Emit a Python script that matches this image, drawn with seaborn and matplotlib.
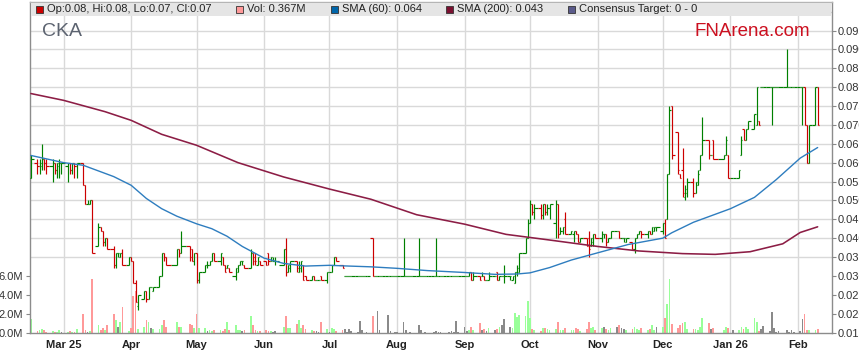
import numpy as np
import pandas as pd
import matplotlib
matplotlib.use("Agg")
import matplotlib.pyplot as plt
import matplotlib.dates as mdates
from matplotlib.patches import Rectangle
from matplotlib.ticker import MultipleLocator, FixedLocator
import seaborn as sns

# ------------------------------------------------------------
# Data: CKA daily bars (prices in 0.1 cent, volume in millions)
# ------------------------------------------------------------
holidays = ["2025-04-18", "2025-04-21", "2025-04-25", "2025-06-09",
            "2025-12-25", "2025-12-26", "2026-01-01", "2026-01-26"]
dates = pd.bdate_range("2025-02-14", "2026-02-10", freq="C", holidays=holidays)

opens = [
    56, 60, 59, 59, 61, 60, 59, 60, 58, 59, 60,                                  # Feb
    59, 60, 58, 60, 59, 60, 54, 49, 49, 50, 38, 43, 42, 39, 40, 37, 33, 36, 35, 36, 33,  # Mar
    35, 34, 28, 22, 24, 26, 24, 27, 26, 27, 30, 36, 35, 33, 37, 36, 38, 37, 34,  # Apr
    36, 29, 31, 33, 33, 34, 36, 34, 35, 33, 32, 32, 30, 31, 33, 34, 33, 32, 36, 35, 33, 34,  # May
    34, 36, 34, 34, 34, 33, 37, 31, 32, 34, 31, 32, 33, 30, 29, 30, 29, 29, 30, 29,  # Jun
    31, 31, 33, 35, 33, 30, 30, 30, 30, 30, 30, 30, 30, 30, 40, 30, 30, 30, 30, 30, 30, 30, 30,  # Jul
    30, 30, 30, 30, 30, 30, 30, 30, 30, 30, 30, 30, 30, 30, 30, 30, 30, 30, 30, 30, 30,  # Aug
    30, 30, 30, 31, 29, 30, 30, 30, 29, 29, 30, 31, 29, 30, 30, 30, 29, 28, 31, 31, 36, 40,  # Sep
    44, 49, 47, 48, 46, 49, 47, 48, 44, 49, 41, 42, 45, 41, 41, 42, 41, 39, 40, 40, 38, 39, 41,  # Oct
    40, 41, 41, 39, 40, 42, 42, 40, 40, 39, 39, 37, 40, 41, 42, 41, 42, 41, 42, 43,  # Nov
    42, 44, 45, 57, 75, 68, 57, 58, 51, 52, 55, 52, 54, 58, 62, 66, 62, 66, 61, 62, 62,  # Dec
    56, 56, 62, 69, 66, 69, 69, 70, 71, 80, 80, 80, 80, 80, 80, 80, 80, 80, 80, 80,  # Jan
    80, 80, 80, 70, 60, 70, 80,                                                  # Feb
]
highs = [
    62, 61, 61, 65, 61, 61, 61, 60, 60, 61, 60,
    60, 60, 60, 60, 60, 60, 54, 50, 50, 50, 44, 43, 42, 40, 40, 38, 36, 36, 36, 37, 35,
    35, 34, 29, 25, 26, 26, 27, 27, 27, 30, 36, 36, 35, 37, 37, 42, 38, 37, 36,
    36, 31, 33, 34, 34, 36, 36, 36, 35, 33, 33, 32, 32, 33, 34, 34, 33, 37, 36, 36, 35, 34,
    34, 36, 35, 35, 35, 37, 40, 33, 34, 34, 34, 34, 33, 30, 30, 30, 29, 29, 30, 31,
    31, 33, 35, 35, 33, 30, 30, 30, 30, 30, 30, 30, 30, 30, 40, 30, 30, 30, 30, 30, 30, 30, 30,
    30, 40, 30, 30, 30, 30, 40, 30, 30, 30, 30, 30, 40, 30, 30, 30, 30, 30, 30, 30, 30,
    30, 30, 31, 31, 31, 30, 31, 30, 29, 31, 30, 31, 30, 30, 33, 30, 30, 31, 33, 36, 40, 45,
    50, 49, 49, 49, 49, 49, 49, 49, 50, 49, 43, 43, 47, 42, 42, 42, 41, 40, 40, 42, 40, 41, 41,
    42, 41, 41, 40, 42, 42, 42, 40, 40, 40, 39, 40, 41, 42, 42, 42, 42, 43, 43, 43,
    44, 45, 57, 75, 75, 68, 57, 64, 54, 56, 56, 55, 58, 62, 72, 66, 62, 66, 62, 67, 62,
    56, 58, 67, 69, 69, 71, 73, 80, 71, 80, 80, 80, 80, 80, 80, 80, 90, 80, 80, 80,
    80, 80, 80, 70, 70, 80, 80,
]
lows = [
    56, 57, 57, 58, 58, 57, 55, 57, 56, 56, 57,
    55, 57, 57, 56, 56, 54, 49, 49, 49, 36, 38, 42, 38, 38, 37, 32, 32, 35, 35, 33, 33,
    34, 28, 23, 21, 24, 23, 24, 27, 26, 27, 30, 34, 33, 33, 35, 36, 34, 34, 33,
    28, 28, 31, 32, 33, 34, 34, 33, 33, 31, 32, 31, 29, 31, 33, 33, 32, 32, 33, 33, 33, 33,
    33, 33, 34, 34, 33, 33, 30, 31, 31, 31, 31, 31, 29, 29, 29, 29, 29, 29, 29, 28,
    31, 31, 33, 34, 32, 30, 30, 30, 30, 30, 30, 30, 30, 30, 30, 30, 30, 30, 30, 30, 30, 30, 30,
    30, 30, 30, 30, 30, 30, 30, 30, 30, 30, 30, 30, 30, 30, 30, 30, 30, 30, 30, 30, 30,
    30, 30, 30, 29, 29, 29, 30, 29, 29, 29, 30, 29, 29, 30, 28, 29, 29, 28, 30, 31, 36, 40,
    44, 46, 45, 45, 45, 46, 46, 45, 40, 40, 41, 41, 41, 41, 39, 41, 39, 39, 38, 35, 38, 38, 40,
    39, 40, 38, 39, 40, 42, 40, 40, 39, 39, 37, 36, 40, 41, 40, 40, 41, 41, 42, 42,
    41, 40, 45, 57, 61, 57, 56, 51, 50, 51, 51, 52, 54, 58, 62, 61, 62, 61, 61, 62, 56,
    56, 56, 62, 66, 66, 69, 69, 70, 70, 80, 80, 80, 70, 80, 80, 80, 80, 80, 80, 80,
    80, 70, 70, 60, 60, 70, 70,
]
closes = [
    61, 59, 60, 61, 60, 59, 60, 58, 60, 60, 60,
    60, 58, 60, 59, 60, 54, 49, 49, 50, 36, 43, 42, 39, 40, 37, 33, 36, 36, 36, 33, 35,
    34, 28, 23, 25, 26, 24, 27, 27, 27, 30, 36, 35, 33, 37, 36, 38, 35, 34, 36,
    29, 31, 33, 33, 34, 36, 34, 36, 33, 31, 33, 31, 32, 33, 34, 34, 32, 36, 34, 34, 35, 33,
    33, 34, 35, 34, 34, 37, 31, 33, 34, 32, 33, 34, 29, 29, 30, 29, 29, 29, 29, 31,
    31, 33, 35, 34, 32, 30, 30, 30, 30, 30, 30, 30, 30, 30, 30, 30, 30, 30, 30, 30, 30, 30, 30,
    30, 30, 30, 30, 30, 30, 30, 30, 30, 30, 30, 30, 30, 30, 30, 30, 30, 30, 30, 30, 30,
    30, 30, 31, 29, 30, 29, 30, 29, 29, 30, 30, 29, 30, 30, 30, 30, 30, 31, 32, 36, 40, 44,
    49, 47, 48, 46, 49, 47, 48, 49, 49, 41, 42, 43, 41, 42, 42, 41, 39, 40, 38, 37, 40, 41, 40,
    41, 41, 39, 40, 42, 42, 40, 40, 40, 40, 37, 40, 41, 42, 41, 42, 41, 43, 43, 43,
    44, 40, 57, 74, 62, 58, 56, 52, 53, 55, 52, 55, 57, 62, 66, 62, 62, 61, 62, 66, 56,
    56, 58, 66, 66, 69, 71, 73, 80, 70, 80, 80, 80, 80, 80, 80, 80, 80, 80, 80, 80,
    80, 80, 70, 60, 70, 80, 70,
]
volumes = [
    1.4, 0.2, 0.3, 0.4, 0.3, 0.1, 0.2, 0.1, 0.1, 0.3, 0.1,
    0.1, 0.2, 0.1, 0.1, 0.4, 2.0, 0.3, 0.1, 0.2, 5.7, 0.8, 0.3, 0.5, 0.3, 0.8, 2.0, 1.3, 0.6, 1.1, 2.7, 0.2,
    0.5, 3.9, 4.4, 0.4, 0.6, 1.3, 1.1, 0.5, 0.4, 0.4, 0.8, 1.3, 0.6, 1.1, 0.6, 0.6, 0.9, 0.8, 0.5,
    2.0, 0.5, 0.5, 0.2, 0.3, 0.2, 0.3, 0.3, 0.2, 0.4, 1.1, 0.3, 0.8, 0.3, 0.3, 0.2, 0.3, 1.7, 0.8, 0.3, 0.2, 0.2,
    0.3, 0.2, 0.2, 0.1, 0.2, 0.6, 1.8, 0.5, 0.5, 0.9, 1.3, 0.5, 0.8, 0.4, 0.3, 0.2, 0.2, 0.1, 1.1, 0.4,
    0.1, 0.5, 0.4, 0.2, 0.3, 0.4, 0.1, 0.4, 0.2, 0.1, 1.2, 0.3, 0.0, 0.1, 1.7, 0.0, 2.3, 0.3, 0.0, 1.9, 0.2, 0.0, 0.1,
    0.1, 1.1, 0.3, 0.0, 0.1, 0.0, 0.8, 0.3, 0.0, 0.1, 0.0, 0.1, 0.2, 0.1, 0.1, 0.0, 0.1, 0.2, 0.1, 1.2, 0.1,
    0.6, 0.2, 0.3, 0.6, 0.3, 1.0, 0.3, 0.4, 0.2, 0.5, 0.3, 0.4, 0.6, 0.8, 1.4, 0.6, 0.5, 2.1, 1.6, 1.9, 1.7, 3.3,
    1.5, 0.4, 0.3, 0.2, 0.5, 0.5, 0.4, 0.3, 0.4, 1.1, 0.3, 0.3, 0.5, 0.3, 0.3, 0.5, 0.4, 0.2, 0.4, 1.1, 0.5, 0.6, 0.3,
    0.5, 0.6, 0.4, 0.3, 0.5, 0.6, 0.8, 0.5, 0.4, 0.3, 0.4, 0.6, 0.4, 0.3, 0.5, 0.3, 0.4, 0.8, 0.3, 0.6,
    0.6, 1.5, 3.0, 5.7, 0.9, 0.5, 0.8, 1.0, 1.1, 0.4, 0.4, 0.4, 0.3, 0.6, 1.5, 1.0, 0.4, 0.5, 0.3, 0.6, 0.5,
    0.3, 0.3, 0.6, 0.4, 0.6, 0.4, 1.5, 1.1, 0.2, 0.4, 0.7, 0.2, 2.2, 0.5, 0.1, 0.2, 0.3, 0.1, 0.3, 0.1,
    0.2, 1.4, 2.0, 0.3, 0.3, 0.3, 0.367,
]

# moving averages at sample dates
sma60_dates = ["2025-02-14", "2025-03-01", "2025-03-10", "2025-03-17", "2025-03-24",
               "2025-04-01", "2025-04-08", "2025-04-15", "2025-04-22", "2025-05-01",
               "2025-05-08", "2025-05-15", "2025-05-22", "2025-06-01", "2025-06-10",
               "2025-06-20", "2025-07-01", "2025-07-10", "2025-07-20", "2025-08-01",
               "2025-08-15", "2025-09-01", "2025-09-15", "2025-09-25", "2025-10-01",
               "2025-10-10", "2025-10-20", "2025-11-01", "2025-11-15", "2025-12-01",
               "2025-12-05", "2025-12-15", "2026-01-01", "2026-01-12", "2026-01-22",
               "2026-02-02", "2026-02-10"]
sma60 = [0.0619, 0.0600, 0.0593, 0.0578, 0.0563, 0.0540, 0.0505, 0.0478, 0.0458, 0.0438,
         0.0425, 0.0405, 0.0378, 0.0347, 0.0333, 0.0326, 0.0328, 0.0326, 0.0324, 0.0320,
         0.0314, 0.0309, 0.0304, 0.0305, 0.0308, 0.0322, 0.0342, 0.0361, 0.0383, 0.0400,
         0.0414, 0.0442, 0.0478, 0.0508, 0.0555, 0.0612, 0.0640]

sma200_dates = ["2025-02-14", "2025-03-01", "2025-03-20", "2025-04-01", "2025-04-15",
                "2025-05-01", "2025-05-20", "2025-06-10", "2025-07-01", "2025-07-20",
                "2025-08-10", "2025-09-01", "2025-09-20", "2025-10-10", "2025-11-01",
                "2025-11-20", "2025-12-10", "2025-12-25", "2026-01-10", "2026-01-25",
                "2026-02-02", "2026-02-10"]
sma200 = [0.0783, 0.0765, 0.0735, 0.0712, 0.0675, 0.0646, 0.0600, 0.0562, 0.0530, 0.0503,
          0.0462, 0.0437, 0.0410, 0.0395, 0.0378, 0.0366, 0.0359, 0.0357, 0.0364, 0.0385,
          0.0415, 0.0430]

month_starts = ["2025-03-01", "2025-04-01", "2025-05-01", "2025-06-01", "2025-07-01",
                "2025-08-01", "2025-09-01", "2025-10-01", "2025-11-01", "2025-12-01",
                "2026-01-01", "2026-02-01"]
month_labels = ["Mar 25", "Apr", "May", "Jun", "Jul", "Aug", "Sep", "Oct", "Nov", "Dec",
                "Jan 26", "Feb"]
price_ticks = [0.015, 0.020, 0.025, 0.030, 0.035, 0.040, 0.045, 0.050, 0.055,
               0.060, 0.065, 0.070, 0.075, 0.080, 0.085, 0.090, 0.095]
vol_ticks = [0, 2, 4, 6]
vol_labels = ["0.0M", "2.0M", "4.0M", "6.0M"]

df = pd.DataFrame({
    "date": dates,
    "open": np.array(opens) / 1000,
    "high": np.array(highs) / 1000,
    "low": np.array(lows) / 1000,
    "close": np.array(closes) / 1000,
    "volume": volumes,
})

# ------------------------------------------------------------
# Figure
# ------------------------------------------------------------
sns.set_style("white")
plt.rcParams["font.family"] = ["Liberation Sans", "DejaVu Sans"]

W, H = 859, 363
fig = plt.figure(figsize=(W / 100, H / 100), dpi=100)
ax = fig.add_axes([30 / W, (H - 333) / H, 802 / W, 331 / H])   # volume (bottom layer)
ax2 = ax.twinx()                                               # price (top layer)

P_LO, P_HI = 0.01487, 0.10255
ax2.set_ylim(P_LO, P_HI)
# volume scale tied to price grid: 2M per 0.005
ax.set_ylim((P_LO - 0.015) * 400, (P_HI - 0.015) * 400)
ax.set_xlim(pd.Timestamp("2025-02-13 14:00"), pd.Timestamp("2026-02-16 14:00"))

# volume bars
vcol = np.where(df["close"] > df["open"], "#99ff99",
                np.where(df["close"] < df["open"], "#ff9999", "#8a8a8a"))
ax.bar(df["date"], df["volume"], width=0.8, color=vcol, linewidth=0, zorder=2)

# OHLC bars, ticks reaching half way to neighbouring sessions
x = mdates.date2num(df["date"])
mid = (x[1:] + x[:-1]) / 2
left = np.r_[x[0] - 0.6, mid]
right = np.r_[mid, x[-1] + 0.6]
bcol = np.where(df["close"] < df["open"], "#cc0000", "#008000")
ax2.vlines(x, df["low"], df["high"], colors=bcol, lw=0.85, zorder=3)
ax2.hlines(df["open"], left, x, colors=bcol, lw=0.85, zorder=3)
ax2.hlines(df["close"], x, right, colors=bcol, lw=0.85, zorder=3)

# moving averages
sns.lineplot(x=pd.to_datetime(sma200_dates), y=sma200, ax=ax2, color="#8c1d45",
             lw=1.15, zorder=4)
sns.lineplot(x=pd.to_datetime(sma60_dates), y=sma60, ax=ax2, color="#2e7dbf",
             lw=1.0, zorder=4)

# grid (on bottom axes so volume bars cover it)
ax.set_xticks(pd.to_datetime(month_starts))
ax.set_xticklabels(month_labels, fontsize=8, fontweight="bold", color="#222222")
ax.yaxis.set_minor_locator(MultipleLocator(2))
ax.grid(axis="x", which="major", color="#d9d9d9", lw=1, zorder=0)
ax.grid(axis="y", which="minor", color="#d9d9d9", lw=1, zorder=0)
ax.grid(axis="y", which="major", visible=False)
ax.set_axisbelow(True)

ax.yaxis.set_major_locator(FixedLocator(vol_ticks))
ax.set_yticklabels(vol_labels, fontsize=8, color="#333333")
ax.tick_params(axis="y", which="major", left=True, right=False, length=3,
               color="#888888", pad=2)
ax.tick_params(axis="y", which="minor", length=0)
ax.tick_params(axis="x", length=3, color="#888888", pad=2)

ax2.set_yticks(price_ticks)
ax2.set_yticklabels([f"{p:.3f}" for p in price_ticks], fontsize=8, color="#333333")
ax2.tick_params(axis="y", right=True, left=False, length=3, color="#888888", pad=1)
ax2.grid(False)
ax2.set_xlabel("")
ax2.set_ylabel("")
ax.set_ylabel("")

for s in ax.spines.values():
    s.set_color("#8c8c8c")
    s.set_linewidth(1)
ax.spines["top"].set_color("#b5b5b5")
for s in ax2.spines.values():
    s.set_visible(False)

# legend band
fig.add_artist(Rectangle((31 / W, 1 - 16 / H), 800 / W, 13 / H,
                         transform=fig.transFigure, fc="#e5e5e5", ec="none", zorder=5))

legend_items = [
    (36, "#cc0000", "Op:0.08, Hi:0.08, Lo:0.07, Cl:0.07"),
    (236, "#ff9999", "Vol: 0.367M"),
    (331, "#0066aa", "SMA (60): 0.064"),
    (446, "#7a1030", "SMA (200): 0.043"),
    (568, "#5a5a8a", "Consensus Target: 0 - 0"),
]
for px, c, label in legend_items:
    fig.add_artist(Rectangle((px / W, 1 - 13 / H), 7 / W, 7 / H,
                             transform=fig.transFigure, fc=c, ec="#333333",
                             lw=0.6, zorder=6))
    fig.text((px + 11) / W, 1 - 9.5 / H, label, fontsize=8, color="#222222",
             va="center", ha="left", zorder=7)

fig.text(42 / W, 1 - 32 / H, "CKA", fontsize=14, color="#5c6370",
         va="center", ha="left")
fig.text(695 / W, 1 - 32 / H, "FNArena.com", fontsize=13.5, color="#cc1020",
         va="center", ha="left")

fig.savefig("out.png", dpi=100)
